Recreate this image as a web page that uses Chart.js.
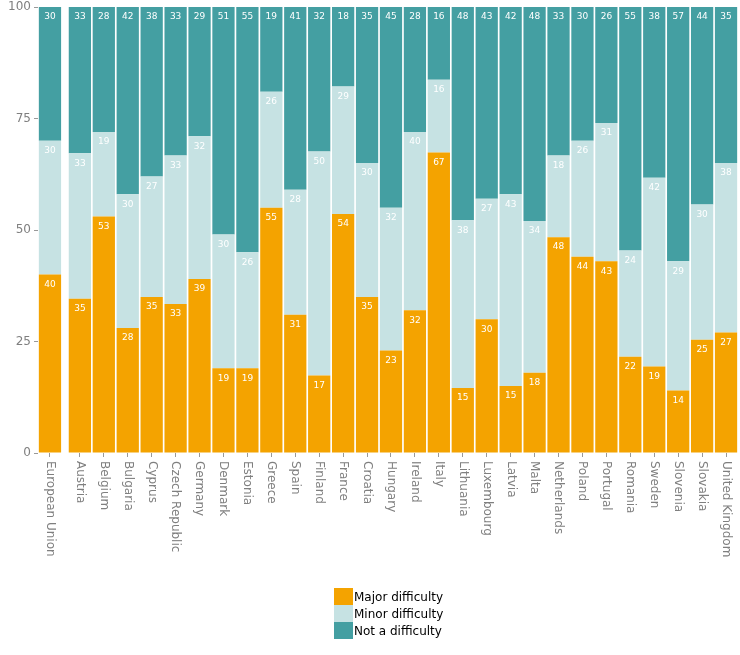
<!DOCTYPE html>
<html>
<head>
<meta charset="utf-8">
<script src="https://cdn.jsdelivr.net/npm/chart.js@4/dist/chart.umd.min.js"></script>
<style>
  body { margin: 0; background: #fff; }
  #wrap { position: relative; width: 740px; height: 655px; }
  #legend { position: absolute; left: 334px; top: 588px; font: 12px "DejaVu Sans", sans-serif; color: #000; }
  #legend div { display: flex; align-items: center; height: 17px; }
  #legend span.sw { width: 19px; height: 17px; display: inline-block; margin-right: 1px; }
</style>
</head>
<body>
<div id="wrap">
  <canvas id="chart" width="740" height="655"></canvas>
  <div id="legend"></div>
</div>
<script>
// Categorías (la UE primero, separada un poco del resto)
const countries = ["European Union", "Austria", "Belgium", "Bulgaria", "Cyprus", "Czech Republic",
  "Germany", "Denmark", "Estonia", "Greece", "Spain", "Finland", "France", "Croatia", "Hungary",
  "Ireland", "Italy", "Lithuania", "Luxembourg", "Latvia", "Malta", "Netherlands", "Poland",
  "Portugal", "Romania", "Sweden", "Slovenia", "Slovakia", "United Kingdom"];

// Porcentajes
const major = [40, 34.6, 53, 28, 35, 33.4, 39, 19, 19, 55, 31, 17.4, 53.6, 35, 23, 32, 67.4, 14.6, 30, 15, 18, 48.4, 44, 43, 21.6, 19.4, 14, 25.4, 27];
const minor = [30, 32.6, 19, 30, 27, 33.3, 32, 30, 26, 26, 28, 50.2, 28.6, 30, 32, 40, 16.3, 37.6, 27, 43, 34, 18.3, 26, 31, 23.8, 42.3, 29, 30.3, 38];
const notDiff = [30, 32.8, 28, 42, 38, 33.3, 29, 51, 55, 19, 41, 32.4, 17.8, 35, 45, 28, 16.3, 47.8, 43, 42, 48, 33.3, 30, 26, 54.6, 38.3, 57, 44.3, 35];

const seriesNames = ["Major difficulty", "Minor difficulty", "Not a difficulty"];
const seriesColors = ["#f4a300", "#c6e2e3", "#449fa2"];
const yTicks = [0, 25, 50, 75, 100];

// posición en el eje x: hueco extra después de la UE
const xPos = countries.map((c, i) => i === 0 ? 0 : i + 0.25);
const toPoints = arr => arr.map((v, i) => ({ x: xPos[i], y: v }));

const grey = "#7f7f7f";

// etiquetas blancas dentro de cada segmento
const valueLabels = {
  id: "valueLabels",
  afterDatasetsDraw(chart) {
    const ctx = chart.ctx;
    ctx.save();
    ctx.fillStyle = "#fff";
    ctx.font = "9px 'DejaVu Sans', sans-serif";
    ctx.textAlign = "center";
    ctx.textBaseline = "middle";
    chart.data.datasets.forEach((ds, di) => {
      chart.getDatasetMeta(di).data.forEach((bar, i) => {
        const v = ds.data[i].y;
        if (!v) return;
        const top = Math.max(bar.y, chart.chartArea.top);
        ctx.fillText(Math.round(v), bar.x, top + 10);
      });
    });
    ctx.restore();
  }
};

// nombres de países girados (de arriba abajo)
const countryLabels = {
  id: "countryLabels",
  afterDraw(chart) {
    const ctx = chart.ctx;
    const xs = chart.scales.x;
    ctx.save();
    ctx.fillStyle = grey;
    ctx.font = "12px 'DejaVu Sans', sans-serif";
    ctx.textAlign = "left";
    ctx.textBaseline = "middle";
    countries.forEach((name, i) => {
      ctx.save();
      ctx.translate(xs.getPixelForValue(xPos[i]), chart.chartArea.bottom + 8);
      ctx.rotate(Math.PI / 2);
      ctx.fillText(name, 0, 0);
      ctx.restore();
    });
    ctx.restore();
  }
};

new Chart(document.getElementById("chart"), {
  type: "bar",
  data: {
    datasets: [
      { label: seriesNames[0], data: toPoints(major), backgroundColor: seriesColors[0] },
      { label: seriesNames[1], data: toPoints(minor), backgroundColor: seriesColors[1] },
      { label: seriesNames[2], data: toPoints(notDiff), backgroundColor: seriesColors[2] }
    ]
  },
  options: {
    responsive: false,
    animation: false,
    barPercentage: 0.93,
    categoryPercentage: 1,
    layout: { padding: { top: 7, right: 2, left: 0, bottom: 0 } },
    plugins: { legend: { display: false }, tooltip: { enabled: false } },
    scales: {
      x: {
        type: "linear",
        stacked: true,
        offset: false,
        min: -0.5,
        max: 28.75,
        afterBuildTicks: s => { s.ticks = xPos.map(v => ({ value: v })); },
        afterFit: s => { s.height = 202; s.paddingLeft = 0; s.paddingRight = 0; },
        ticks: { display: false },
        grid: { offset: false, drawOnChartArea: false, drawTicks: true, tickLength: 4, color: "#999" },
        border: { display: false }
      },
      y: {
        stacked: true,
        min: 0,
        max: 100,
        afterBuildTicks: s => { s.ticks = yTicks.map(v => ({ value: v })); },
        afterFit: s => { s.width = 38; s.paddingTop = 0; s.paddingBottom = 0; },
        ticks: { color: grey, padding: 3, font: { family: "'DejaVu Sans', sans-serif", size: 12 } },
        grid: { drawOnChartArea: false, drawTicks: true, tickLength: 4, color: "#999" },
        border: { display: false }
      }
    }
  },
  plugins: [valueLabels, countryLabels]
});

// leyenda vertical debajo del gráfico
const legend = document.getElementById("legend");
seriesNames.forEach((name, i) => {
  const row = document.createElement("div");
  row.innerHTML = `<span class="sw" style="background:${seriesColors[i]}"></span>${name}`;
  legend.appendChild(row);
});
</script>
</body>
</html>
